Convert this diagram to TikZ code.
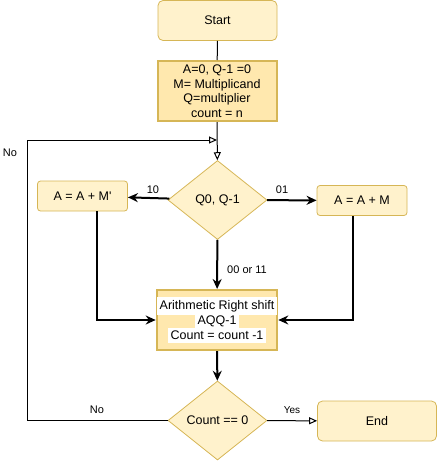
\documentclass[tikz,border=0pt]{standalone}
\usepackage{fontspec}
\setmainfont{Liberation Sans}
\usetikzlibrary{shapes.geometric, arrows.meta, positioning}
\definecolor{boxfill}{HTML}{FFF2CC}
\definecolor{boxline}{HTML}{D6B656}
\definecolor{initfill}{HTML}{FFE8AE}

\begin{document}
\begin{tikzpicture}[x=1pt, y=-1pt,
    % Define styles
    startstop/.style={rectangle, rounded corners=5pt, draw=boxline, fill=boxfill, line width=0.8pt, minimum width=119pt, minimum height=40pt, text centered, font=\fontsize{12.5}{14}\selectfont},
    process/.style={rectangle, rounded corners=3pt, draw=boxline, fill=boxfill, line width=0.8pt, minimum width=90pt, minimum height=30pt, text centered, font=\fontsize{12.5}{14}\selectfont},
    initbox/.style={rectangle, draw=boxline, fill=initfill, line width=2pt, minimum width=119pt, minimum height=60pt, align=center, inner sep=0pt, font=\fontsize{12.5}{14.5}\selectfont},
    decision/.style={diamond, draw=boxline, fill=boxfill, line width=0.8pt, minimum width=99pt, minimum height=79pt, inner sep=0pt, aspect=1.25, text centered, font=\fontsize{12.5}{14}\selectfont},
    label_text/.style={font=\fontsize{11}{13}\selectfont},
    line/.style={-, line width=1pt},
    arrow/.style={-{Stealth[length=10pt, width=9pt]}, line width=2pt},
    open_arrow/.style={-{Triangle[open, length=8pt, width=7pt]}, line width=1pt}
]
\useasboundingbox (0,0) rectangle (438,461);

% Main Nodes
\node[startstop] (start) at (217.5,20.5) {Start};
\node[initbox] (init) at (217,91) {A=0, Q-1 =0\\M= Multiplicand\\Q=multiplier\\count = n};
\node[decision] (check_q) at (217.5,200) {Q0, Q-1};
\node[process] (sub_m) at (82.5,196) {A = A + M\textquotesingle};
\node[process] (add_m) at (362,200.5) {A = A + M};
\node[initbox] (shift) at (217,320) {\colorbox{white}{Arithmetic Right shift}\\[-3pt]\colorbox{white}{AQQ-1}\\[-3pt]\colorbox{white}{Count = count -1}};
\node[decision] (check_count) at (217.5,420.5) {Count == 0};
\node[startstop] (stop) at (377,421) {End};

% Helper points
\coordinate (loop_end) at (217,140);
\coordinate (loop_corner) at (27,420.5);
\coordinate (sub_down) at (97,320);
\coordinate (add_down) at (353,320);

% Connect the steps
\draw[line] (start) -- (init);
\draw[open_arrow] (init) -- (check_q);
\draw[arrow] (check_q) -- (sub_m);
\draw[arrow] (check_q) -- (add_m);
\draw[arrow] (check_q) -- (shift);
\draw[arrow] (sub_m.south -| sub_down) -- (sub_down) -- (shift);
\draw[arrow] (add_m.south -| add_down) -- (add_down) -- (shift);
\draw[arrow] (shift) -- (check_count);
\draw[open_arrow] (check_count) -- (stop);
\draw[open_arrow] (check_count) -- (loop_corner) |- (loop_end);

% Add branch labels
\node[label_text] (lbl_10) at (153,190) {10};
\node[label_text] (lbl_01) at (282,190) {01};
\node[label_text] (lbl_00) at (247,270) {00 or 11};
\node[label_text] (lbl_no_top) at (10,153) {No};
\node[label_text] (lbl_no) at (97,410) {No};
\node[font=\fontsize{10}{12}\selectfont] (lbl_yes) at (292,410) {Yes};

\end{tikzpicture}
\end{document}
